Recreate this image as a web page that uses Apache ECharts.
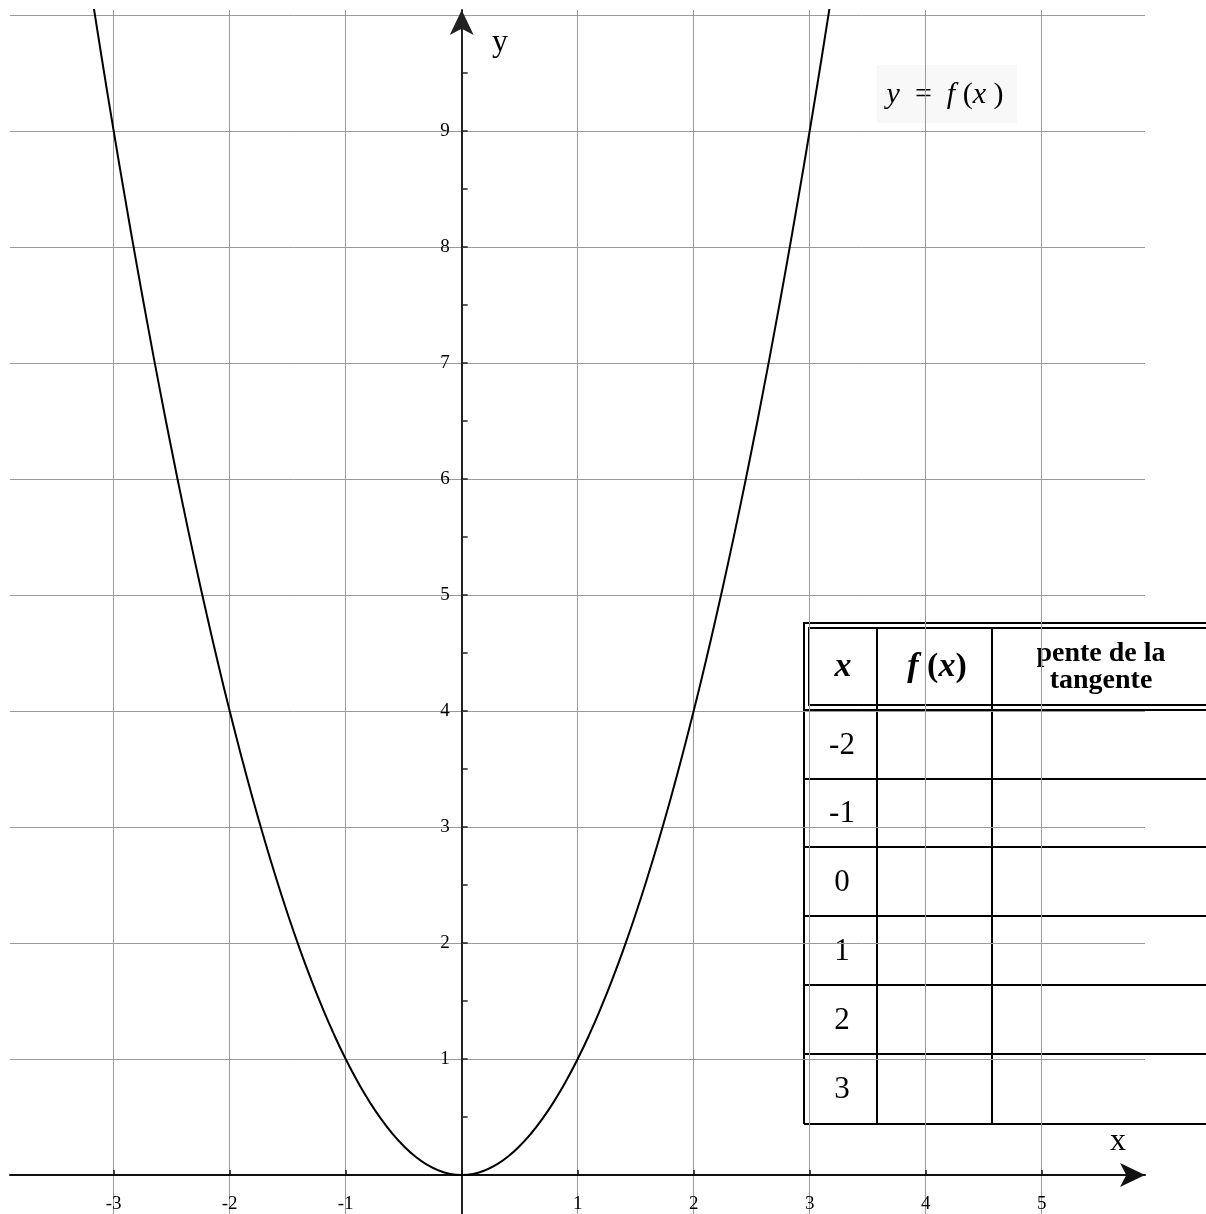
<!DOCTYPE html>
<html>
<head>
<meta charset="utf-8">
<title>y = f(x)</title>
<style>
  html, body { margin: 0; padding: 0; background: #fff; }
  #main { width: 1206px; height: 1214px; }
</style>
</head>
<body>
<div id="main"></div>
<script src="https://cdn.jsdelivr.net/npm/echarts@6/dist/echarts.min.js"></script>
<script>
// courbe
var curveX = [-3.2, -3.1, -3, -2.9, -2.8, -2.7, -2.6, -2.5, -2.4, -2.3, -2.2, -2.1, -2, -1.9, -1.8, -1.7,
              -1.6, -1.5, -1.4, -1.3, -1.2, -1.1, -1, -0.9, -0.8, -0.7, -0.6, -0.5, -0.4, -0.3, -0.2, -0.1,
              0, 0.1, 0.2, 0.3, 0.4, 0.5, 0.6, 0.7, 0.8, 0.9, 1, 1.1, 1.2, 1.3, 1.4, 1.5,
              1.6, 1.7, 1.8, 1.9, 2, 2.1, 2.2, 2.3, 2.4, 2.5, 2.6, 2.7, 2.8, 2.9, 3, 3.1, 3.2];
var curveY = [10.24, 9.61, 9, 8.41, 7.84, 7.29, 6.76, 6.25, 5.76, 5.29, 4.84, 4.41, 4, 3.61, 3.24, 2.89,
              2.56, 2.25, 1.96, 1.69, 1.44, 1.21, 1, 0.81, 0.64, 0.49, 0.36, 0.25, 0.16, 0.09, 0.04, 0.01,
              0, 0.01, 0.04, 0.09, 0.16, 0.25, 0.36, 0.49, 0.64, 0.81, 1, 1.21, 1.44, 1.69, 1.96, 2.25,
              2.56, 2.89, 3.24, 3.61, 4, 4.41, 4.84, 5.29, 5.76, 6.25, 6.76, 7.29, 7.84, 8.41, 9, 9.61, 10.24];

// graduations
var xTicks = [-3, -2, -1, 0, 1, 2, 3, 4, 5];
var xLabels = [-3, -2, -1, 1, 2, 3, 4, 5];
var yGrid = [0, 1, 2, 3, 4, 5, 6, 7, 8, 9, 10];
var yLabels = [1, 2, 3, 4, 5, 6, 7, 8, 9];
var yMinor = [0.5, 1, 1.5, 2, 2.5, 3, 3.5, 4, 4.5, 5, 5.5, 6, 6.5, 7, 7.5, 8, 8.5, 9, 9.5];

// tableau
var tableHead = ['{i|x}', '{i|f}{n| (}{i|x}{n|)}', 'pente de la\ntangente'];
var tableX = ['-2', '-1', '0', '1', '2', '3'];

var serif = "'Liberation Serif', 'Times New Roman', serif";
var xMin = -3.894, xMax = 5.891, yMin = -0.336, yMax = 10.043;
var gL = 10, gR = 1145, gT = 10, gB = 1214;
// position des axes (origine)
var yAxisOffset = -((0 - xMin) / (xMax - xMin) * (gR - gL));
var xAxisOffset = -((0 - yMin) / (yMax - yMin) * (gB - gT));

var points = [];
for (var i = 0; i < curveX.length; i++) points.push([curveX[i], curveY[i]]);

// tableau dessine en pixels
var tL = 804, tR = 1214, tTop = 623, hBot = 710, c1 = 877, c2 = 992;
var rowLines = [779, 847, 916, 985, 1054, 1124];
var lineSt = { stroke: '#000', lineWidth: 2 };
var tableEls = [
  { type: 'rect', shape: { x: tL, y: tTop, width: tR - tL, height: 1124 - tTop }, style: { fill: '#fff' } },
  { type: 'rect', shape: { x: tL, y: tTop, width: tR - tL, height: hBot - tTop }, style: { fill: 'none', stroke: '#000', lineWidth: 2 } },
  { type: 'rect', shape: { x: tL + 5, y: tTop + 5, width: tR - tL - 10, height: hBot - tTop - 10 }, style: { fill: 'none', stroke: '#000', lineWidth: 2 } },
  { type: 'line', shape: { x1: tL, y1: hBot, x2: tL, y2: 1124 }, style: lineSt },
  { type: 'line', shape: { x1: c1, y1: tTop + 5, x2: c1, y2: 1124 }, style: lineSt },
  { type: 'line', shape: { x1: c2, y1: tTop + 5, x2: c2, y2: 1124 }, style: lineSt }
];
rowLines.forEach(function (y) {
  tableEls.push({ type: 'line', shape: { x1: tL, y1: y, x2: tR, y2: y }, style: lineSt });
});
var headX = [843, 937, 1101];
tableHead.forEach(function (t, k) {
  tableEls.push({
    type: 'text', x: headX[k], y: 667,
    style: {
      text: t, fill: '#000', align: 'center', verticalAlign: 'middle',
      font: 'bold 28px ' + serif, lineHeight: 27,
      rich: {
        i: { font: 'italic bold 34px ' + serif, fill: '#000' },
        n: { font: 'bold 34px ' + serif, fill: '#000' }
      }
    }
  });
});
var prev = hBot;
tableX.forEach(function (t, k) {
  var yb = rowLines[k];
  tableEls.push({
    type: 'text', x: 842, y: (prev + yb) / 2 + 1,
    style: { text: t, fill: '#000', align: 'center', verticalAlign: 'middle', font: '31px ' + serif }
  });
  prev = yb;
});

var chart = echarts.init(document.getElementById('main'));
chart.setOption({
  backgroundColor: '#fff',
  animation: false,
  grid: { left: gL, right: 1206 - gR, top: gT, bottom: 1214 - gB, containLabel: false, outerBoundsMode: 'none' },
  xAxis: {
    type: 'value', min: xMin, max: xMax, position: 'bottom', offset: xAxisOffset,
    axisLine: {
      onZero: false, symbol: ['none', 'arrow'], symbolSize: [18, 25],
      lineStyle: { color: '#111', width: 2 }
    },
    axisTick: { customValues: xTicks, inside: true, length: 5, lineStyle: { color: '#111', width: 1.5 } },
    axisLabel: { customValues: xLabels, color: '#000', fontFamily: serif, fontSize: 19, margin: 19 },
    splitLine: { show: true, lineStyle: { color: '#9a9a9a', width: 1 } }
  },
  yAxis: [{
    type: 'value', min: yMin, max: yMax, position: 'left', offset: yAxisOffset,
    axisLine: {
      onZero: false, symbol: ['none', 'arrow'], symbolSize: [18, 25],
      lineStyle: { color: '#222', width: 2 }
    },
    axisTick: { show: false, customValues: yGrid },
    axisLabel: { customValues: yLabels, color: '#000', fontFamily: serif, fontSize: 19, margin: 12, padding: [5, 0, 0, 0] },
    splitLine: { show: true, lineStyle: { color: '#9a9a9a', width: 1 } }
  }, {
    type: 'value', min: yMin, max: yMax, position: 'left', offset: yAxisOffset,
    axisLine: { show: false, onZero: false },
    axisTick: { customValues: yMinor, inside: true, length: 6, lineStyle: { color: '#222', width: 1.5 } },
    axisLabel: { show: false },
    splitLine: { show: false }
  }],
  series: [{
    type: 'line', data: points, xAxisIndex: 0, yAxisIndex: 0,
    showSymbol: false, smooth: true, clip: true, silent: true,
    lineStyle: { color: '#000', width: 2 }
  }],
  graphic: [
    { type: 'text', x: 500, y: 43, style: { text: 'y', fill: '#000', align: 'center', verticalAlign: 'middle', font: '32px ' + serif } },
    { type: 'text', x: 1118, y: 1142, style: { text: 'x', fill: '#000', align: 'center', verticalAlign: 'middle', font: '32px ' + serif } },
    { type: 'rect', shape: { x: 877, y: 65, width: 140, height: 58 }, style: { fill: '#f8f8f8' } },
    {
      type: 'text', x: 945, y: 95,
      style: {
        text: '{i|y}{n|  =  }{i|f}{n| (}{i|x}{n| )}', align: 'center', verticalAlign: 'middle',
        rich: {
          i: { font: 'italic 30px ' + serif, fill: '#000' },
          n: { font: '30px ' + serif, fill: '#000' }
        }
      }
    },
    { type: 'group', children: tableEls }
  ]
});
</script>
</body>
</html>
